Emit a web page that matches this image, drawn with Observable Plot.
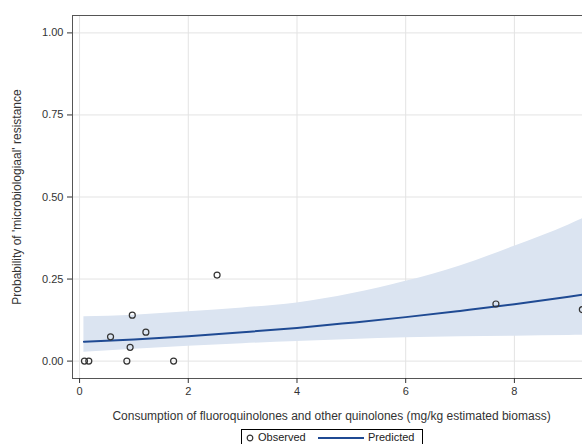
<!DOCTYPE html>
<html>
<head>
<meta charset="utf-8">
<script src="https://cdn.jsdelivr.net/npm/d3@7"></script>
<script src="https://cdn.jsdelivr.net/npm/@observablehq/plot@0.6"></script>
<style>
  html, body { margin: 0; padding: 0; background: #fff; overflow: hidden; width: 582px; height: 444px; }
  #chart { position: relative; width: 582px; height: 444px; overflow: hidden; }
  #chart > svg { position: absolute; left: 0; top: 0; max-width: none !important; width: 591px; height: 428px; }
  .legend { position: absolute; left: 241px; top: 429px; width: 180px; height: 14px; border: 1px solid #000;
    font-family: "Liberation Sans", Arial, sans-serif; font-size: 11px; color: #222; background: #fff; }
  .legend .item { position: absolute; top: 0; line-height: 14px; white-space: nowrap; }
  .legend svg { vertical-align: middle; }
</style>
</head>
<body>
<div id="chart"></div>
<script>
// Observed data
const obsX = [0.09, 0.17, 0.87, 1.73, 0.57, 0.97, 0.93, 1.22, 2.53, 7.66, 9.25];
const obsY = [0, 0, 0, 0, 0.074, 0.14, 0.042, 0.088, 0.262, 0.174, 0.157];

// Predicted curve and confidence band
const curveX    = [0.08, 1, 2, 3, 4, 5, 6, 7, 8, 9, 9.4];
const predicted = [0.059, 0.066, 0.076, 0.088, 0.101, 0.117, 0.134, 0.153, 0.173, 0.196, 0.206];
const lower     = [0.027, 0.036, 0.045, 0.053, 0.060, 0.066, 0.071, 0.074, 0.076, 0.078, 0.079];
const upper     = [0.135, 0.140, 0.150, 0.162, 0.177, 0.205, 0.243, 0.290, 0.350, 0.415, 0.445];

const xTicks = [0, 2, 4, 6, 8];
const yTicks = [0, 0.25, 0.5, 0.75, 1];

const xLabel = "Consumption of fluoroquinolones and other quinolones (mg/kg estimated biomass)";
const yLabel = "Probability of 'microbiologiaal' resistance";

const obs = obsX.map((x, i) => ({x, y: obsY[i]}));
const curve = curveX.map((x, i) => ({x, p: predicted[i], lo: lower[i], hi: upper[i]}));

const xDomain = [-0.13, 9.40];
const yDomain = [-0.053, 1.053];

const plot = Plot.plot({
  width: 591,
  height: 428,
  marginLeft: 72,
  marginRight: 1,
  marginTop: 15,
  marginBottom: 50,
  style: {fontFamily: "'Liberation Sans', Arial, sans-serif", fontSize: "11px", color: "#333", background: "transparent"},
  x: {domain: xDomain},
  y: {domain: yDomain},
  marks: [
    Plot.gridX(xTicks, {stroke: "#e3e3e3", strokeOpacity: 1}),
    Plot.gridY(yTicks, {stroke: "#e3e3e3", strokeOpacity: 1}),
    Plot.areaY(curve, {x: "x", y1: "lo", y2: "hi", fill: "#dbe4f1", fillOpacity: 1, curve: "monotone-x"}),
    Plot.line(curve, {x: "x", y: "p", stroke: "#1f4a93", strokeWidth: 2, curve: "monotone-x"}),
    Plot.dot(obs, {x: "x", y: "y", r: 3, stroke: "#333", strokeWidth: 1.2, fill: "none"}),
    Plot.ruleX([xDomain[0]], {stroke: "#555"}),
    Plot.ruleY([yDomain[0], yDomain[1]], {stroke: "#555"}),
    Plot.axisX(xTicks, {tickSize: 5, tickPadding: 4, stroke: "#333", label: xLabel, labelAnchor: "center", labelOffset: 41, labelArrow: "none"}),
    Plot.axisY(yTicks, {tickSize: 5, tickPadding: 4, tickFormat: d3.format(".2f"), stroke: "#333", label: yLabel, labelAnchor: "center", labelOffset: 60, labelArrow: "none"})
  ]
});
plot.querySelectorAll('[aria-label="x-axis label"], [aria-label="y-axis label"]').forEach(g => {
  g.setAttribute("font-size", "12");
  g.style.fontSize = "12px";
});
const chart = document.getElementById("chart");
chart.appendChild(plot);

const legend = document.createElement("div");
legend.className = "legend";
legend.innerHTML =
  '<span class="item" style="left:4px"><svg width="8" height="8"><circle cx="4" cy="4" r="2.8" fill="none" stroke="#333" stroke-width="1.2"/></svg></span>' +
  '<span class="item" style="left:16px">Observed</span>' +
  '<span class="item" style="left:76px"><svg width="46" height="6"><line x1="0" y1="3" x2="46" y2="3" stroke="#1f4a93" stroke-width="2"/></svg></span>' +
  '<span class="item" style="left:126px">Predicted</span>';
chart.appendChild(legend);
</script>
</body>
</html>
